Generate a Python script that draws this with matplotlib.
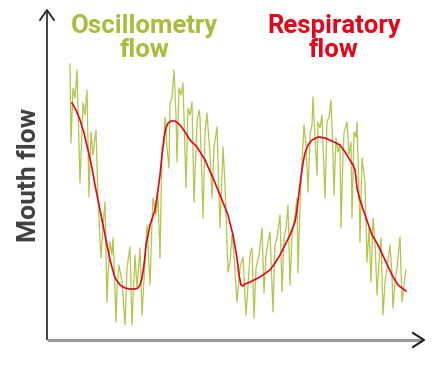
import matplotlib.pyplot as plt

# noisy oscillometry trace (x in px-like time units, y as flow)
osc_t = [70, 71, 73, 75, 77, 80, 83, 85, 87, 89, 91, 93, 96, 98, 101, 103, 105,
         107, 108, 110, 112, 113, 114, 116, 117, 119, 122, 123, 125, 127, 130, 132,
         135, 137, 140, 142, 145, 147, 150, 152, 153, 156, 158, 160, 162, 164, 165,
         167, 169, 170, 172, 174, 176, 177, 179, 181, 183, 186, 188, 190, 192, 194,
         197, 199, 200, 203, 205, 207, 210, 212, 214, 217, 220, 223, 225, 228, 230,
         232, 234, 237, 240, 243, 246, 248, 250, 252, 254, 256, 259, 262, 264, 266,
         268, 270, 273, 275, 277, 280, 282, 284, 286, 288, 290, 292, 295, 297, 298,
         300, 302, 304, 306, 308, 310, 312, 313, 315, 317, 318, 320, 322, 325, 327,
         329, 331, 333, 334, 336, 338, 340, 341, 343, 344, 347, 349, 351, 352, 354,
         356, 357, 359, 360, 362, 365, 367, 369, 371, 373, 375, 377, 379, 381, 383,
         385, 387, 390, 392, 393, 395, 397, 400, 402, 404, 406]
osc_y = [64, 143, 88, 98, 70, 183, 103, 115, 90, 197, 132, 155, 130, 200, 258, 225,
         202, 302, 275, 242, 255, 238, 260, 322, 288, 265, 282, 295, 325, 268, 247,
         325, 255, 288, 248, 315, 262, 225, 285, 222, 198, 215, 195, 258, 148, 145,
         117, 148, 168, 103, 98, 70, 115, 162, 88, 95, 83, 188, 108, 115, 102, 202,
         122, 110, 117, 218, 132, 113, 155, 198, 147, 127, 228, 147, 185, 272, 262,
         235, 255, 302, 268, 257, 315, 285, 255, 248, 318, 268, 255, 228, 293, 255,
         242, 232, 312, 245, 238, 215, 292, 238, 228, 205, 285, 235, 215, 198, 273,
         205, 162, 125, 145, 192, 135, 125, 97, 138, 175, 122, 128, 115, 198, 122,
         117, 100, 155, 195, 138, 152, 145, 228, 155, 133, 122, 155, 142, 218, 132,
         137, 122, 195, 242, 158, 182, 262, 228, 282, 218, 242, 295, 262, 238, 315,
         282, 268, 245, 275, 308, 282, 268, 237, 302, 285, 270]

# smooth respiratory trace
resp_t = [72, 76, 80, 84, 88, 92, 95, 100, 105, 110, 115, 120, 125, 130, 135, 138,
          140, 142, 144, 146, 150, 155, 158, 160, 162, 164, 166, 168, 171, 175, 180,
          185, 190, 197, 205, 213, 220, 228, 233, 237, 239, 241, 243, 245, 250, 260,
          270, 275, 280, 285, 290, 295, 297, 299, 301, 303, 305, 308, 312, 318, 325,
          332, 340, 345, 350, 353, 355, 356, 357, 360, 365, 372, 378, 385, 392, 398,
          406]
resp_y = [103, 110, 120, 133, 150, 168, 185, 210, 235, 260, 278, 285, 288, 289,
          289, 288, 285, 278, 265, 245, 225, 210, 190, 175, 155, 138, 128, 123, 121,
          121, 125, 132, 140, 147, 160, 178, 195, 215, 235, 258, 275, 285, 286, 284,
          282, 277, 270, 263, 255, 245, 235, 222, 210, 193, 177, 163, 153, 145, 140,
          137, 138, 141, 145, 152, 160, 165, 170, 178, 188, 200, 215, 235, 245, 260,
          275, 285, 291]

X0, Y0 = 47, 340  # axis origin


def to_flow(ys):
    return [Y0 - v for v in ys]


def to_time(xs):
    return [v - X0 for v in xs]


fig = plt.figure(figsize=(4.39, 3.66), dpi=100)
ax = fig.add_axes([0, 0, 1, 1])
ax.set_xlim(-X0, 439 - X0)
ax.set_ylim(Y0 - 366, Y0)
ax.axis('off')

green = '#abbb3c'
red = '#e3061b'

ax.plot(to_time(osc_t), to_flow(osc_y), color='#b5c44a', lw=0.9, zorder=2)
ax.plot(to_time(resp_t), to_flow(resp_y), color=red, lw=1.2, zorder=3)

# axes with arrows
ax.plot([0, 0], [0, 328], color='#222222', lw=1.2, solid_capstyle='butt')
ax.plot([-7, 0, 7], [320, 330, 320], color='#222222', lw=1.3)
ax.plot([0, 375], [0, 0], color='#999999', lw=2.2, solid_capstyle='butt')
ax.plot([366, 377, 366], [7, 0, -7], color='#222222', lw=1.5)

ax.text(-18, 165, 'Mouth flow', rotation=90, ha='center', va='center',
        fontsize=19, fontweight='bold', color='#404040', family='Roboto')

ax.text(98, 302, 'Oscillometry\nflow', ha='center', va='center', fontsize=18.5,
        fontweight='bold', color=green, family='Roboto', linespacing=1.05)
ax.text(287, 302, 'Respiratory\nflow', ha='center', va='center', fontsize=18.5,
        fontweight='bold', color=red, family='Roboto', linespacing=1.05)

plt.savefig('out.png', dpi=100)
